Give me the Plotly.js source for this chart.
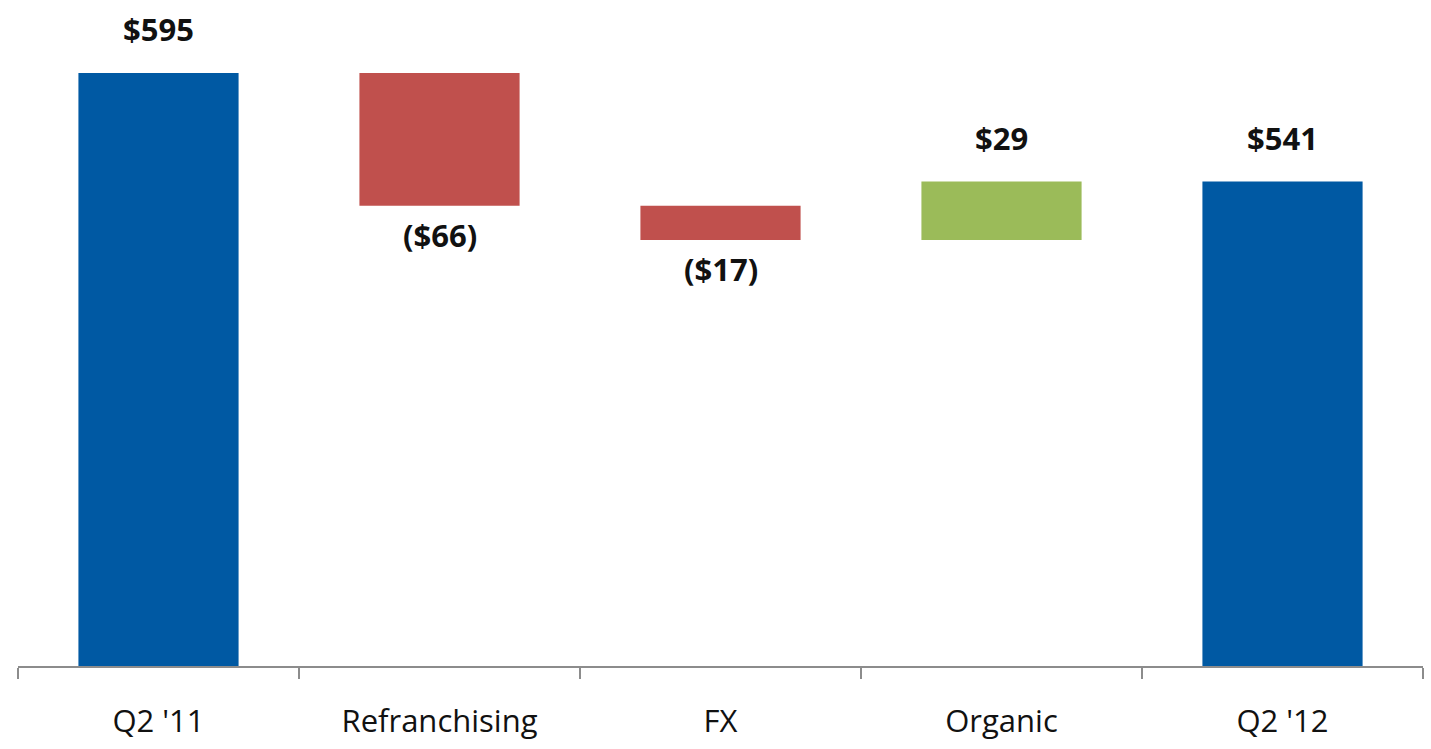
<!DOCTYPE html>
<html>
<head>
<meta charset="utf-8">
<script src="https://cdn.plot.ly/plotly-3.0.1.min.js"></script>
<style>
  html, body { margin: 0; padding: 0; background: #ffffff; }
  #chart { width: 1431px; height: 749px; }
</style>
</head>
<body>
<div id="chart"></div>
<script>
// Operating bridge, Q2 '11 to Q2 '12 ($ millions)
const categories = ["Q2 '11", "Refranchising", "FX", "Organic", "Q2 '12"];
const measures   = ["absolute", "relative", "relative", "relative", "total"];
const values     = [595, -66, -17, 29, 541];

const BLUE  = "#0059a3";
const RED   = "#c0504d";
const GREEN = "#9bbb59";
const FONT  = "Open Sans, sans-serif";

function money(v) {
  return v < 0 ? "($" + Math.abs(v) + ")" : "$" + v;
}

// Running level after each step, used to place the value labels
const ends = [];
let running = 0;
values.forEach((v, i) => {
  if (measures[i] === "absolute") running = v;
  else if (measures[i] === "relative") running += v;
  ends.push(running);
});

const annotations = categories.map((c, i) => {
  const v = values[i];
  const up = v >= 0;
  return {
    x: c, y: ends[i], xref: "x", yref: "y",
    text: money(v), showarrow: false,
    yshift: up ? 44 : -29,
    font: { family: FONT, size: 31, color: "#111111", weight: "bold" }
  };
});

const trace = {
  type: "waterfall",
  x: categories,
  y: values,
  measure: measures,
  width: 0.57,
  textposition: "none",
  hoverinfo: "skip",
  connector: { visible: false },
  increasing: { marker: { color: GREEN } },
  decreasing: { marker: { color: RED } },
  totals:     { marker: { color: BLUE } }
};

const layout = {
  width: 1431, height: 749,
  margin: { l: 18, r: 8, t: 20, b: 83 },
  paper_bgcolor: "#ffffff",
  plot_bgcolor: "#ffffff",
  showlegend: false,
  annotations: annotations,
  xaxis: {
    type: "category",
    showline: true, linecolor: "#8c8c8c", linewidth: 2,
    ticks: "outside", tickson: "boundaries", ticklen: 11, tickcolor: "#8c8c8c", tickwidth: 1.5,
    ticklabelstandoff: 27,
    showgrid: false, zeroline: false,
    tickfont: { family: FONT, size: 31, color: "#111111" }
  },
  yaxis: {
    range: [300, 621.4],
    visible: false, showgrid: false, zeroline: false
  }
};

Plotly.newPlot("chart", [trace], layout, { displayModeBar: false, staticPlot: true });
</script>
</body>
</html>
